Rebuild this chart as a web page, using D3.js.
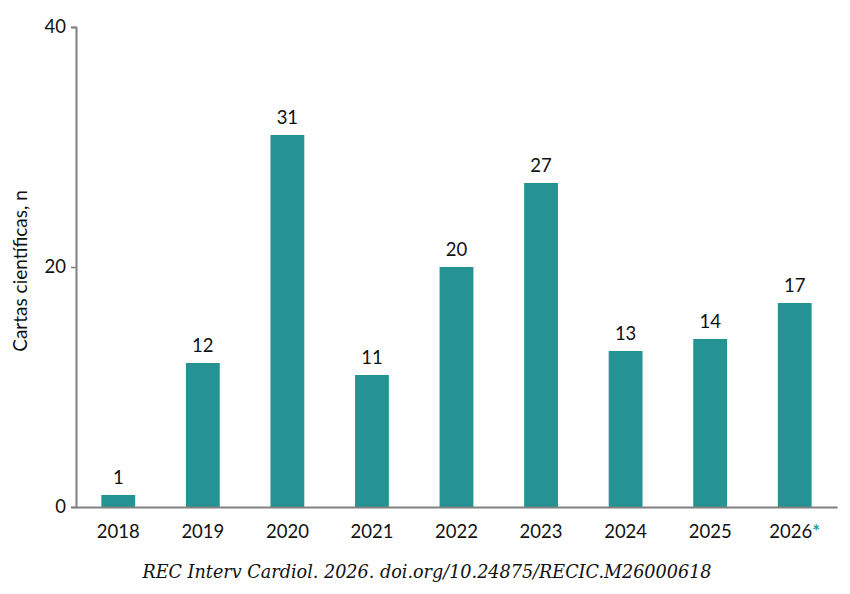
<!DOCTYPE html>
<html>
<head>
<meta charset="utf-8">
<script src="https://cdn.jsdelivr.net/npm/d3@7"></script>
<style>
  body { margin: 0; background: #fff; }
  svg { display: block; }
</style>
</head>
<body>
<svg width="850" height="594"></svg>
<script>
var years = ["2018", "2019", "2020", "2021", "2022", "2023", "2024", "2025", "2026"];
var cartas = [1, 12, 31, 11, 20, 27, 13, 14, 17];
var yTicks = [0, 20, 40];

var plotLeft = 76, plotRight = 837, plotTop = 27, plotBottom = 507;
var teal = "#259393";
var svg = d3.select("svg");

var x = d3.scaleBand()
    .domain(years)
    .range([plotLeft, plotRight])
    .paddingInner(0.6)
    .paddingOuter(0.3);

var y = d3.scaleLinear()
    .domain([0, 40])
    .range([plotBottom, plotTop]);

// bars
svg.selectAll("rect.bar")
    .data(cartas)
    .enter().append("rect")
    .attr("class", "bar")
    .attr("x", function(d, i) { return x(years[i]); })
    .attr("y", function(d) { return y(d); })
    .attr("width", x.bandwidth())
    .attr("height", function(d) { return y(0) - y(d); })
    .attr("fill", teal);

// value labels
svg.selectAll("text.val")
    .data(cartas)
    .enter().append("text")
    .attr("class", "val")
    .attr("x", function(d, i) { return x(years[i]) + x.bandwidth() / 2; })
    .attr("y", function(d) { return y(d) - 11; })
    .attr("text-anchor", "middle")
    .style("font-family", "Lato, 'Open Sans', sans-serif")
    .style("font-size", "18.5px")
    .attr("fill", "#111")
    .text(function(d) { return d; });

// y axis
var yAxis = svg.append("g")
    .attr("transform", "translate(" + plotLeft + ",0)")
    .call(d3.axisLeft(y).tickValues(yTicks).tickSize(5).tickPadding(5));
yAxis.select(".domain").attr("stroke", "#808080").attr("stroke-width", 2);
yAxis.selectAll(".tick line").attr("stroke", "#808080").attr("stroke-width", 1.5);
yAxis.selectAll(".tick text")
    .style("font-family", "Lato, 'Open Sans', sans-serif")
    .style("font-size", "18.5px")
    .attr("fill", "#111");

// x axis
var xAxis = svg.append("g")
    .attr("transform", "translate(0," + plotBottom + ")")
    .call(d3.axisBottom(x).tickSize(0).tickPadding(18));
xAxis.select(".domain").attr("stroke", "#808080").attr("stroke-width", 2);
xAxis.selectAll(".tick text")
    .style("font-family", "Lato, 'Open Sans', sans-serif")
    .style("font-size", "18.5px")
    .attr("fill", "#111");

// asterisk on 2026
xAxis.selectAll(".tick text")
    .filter(function(d) { return d == "2026"; })
    .append("tspan")
    .attr("fill", "#1aa3a3")
    .style("font-weight", "bold")
    .text("*");

// y title
svg.append("text")
    .attr("transform", "translate(27," + ((plotTop + plotBottom) / 2 + 4) + ") rotate(-90)")
    .attr("text-anchor", "middle")
    .style("font-family", "Lato, 'Open Sans', sans-serif")
    .style("font-size", "19px")
    .attr("fill", "#111")
    .text("Cartas científicas, n");

// caption
svg.append("text")
    .attr("x", 427)
    .attr("y", 578)
    .attr("text-anchor", "middle")
    .style("font-family", "'DejaVu Serif', serif")
    .style("font-style", "italic")
    .style("font-size", "17.6px")
    .attr("fill", "#111")
    .text("REC Interv Cardiol. 2026. doi.org/10.24875/RECIC.M26000618");
</script>
</body>
</html>
